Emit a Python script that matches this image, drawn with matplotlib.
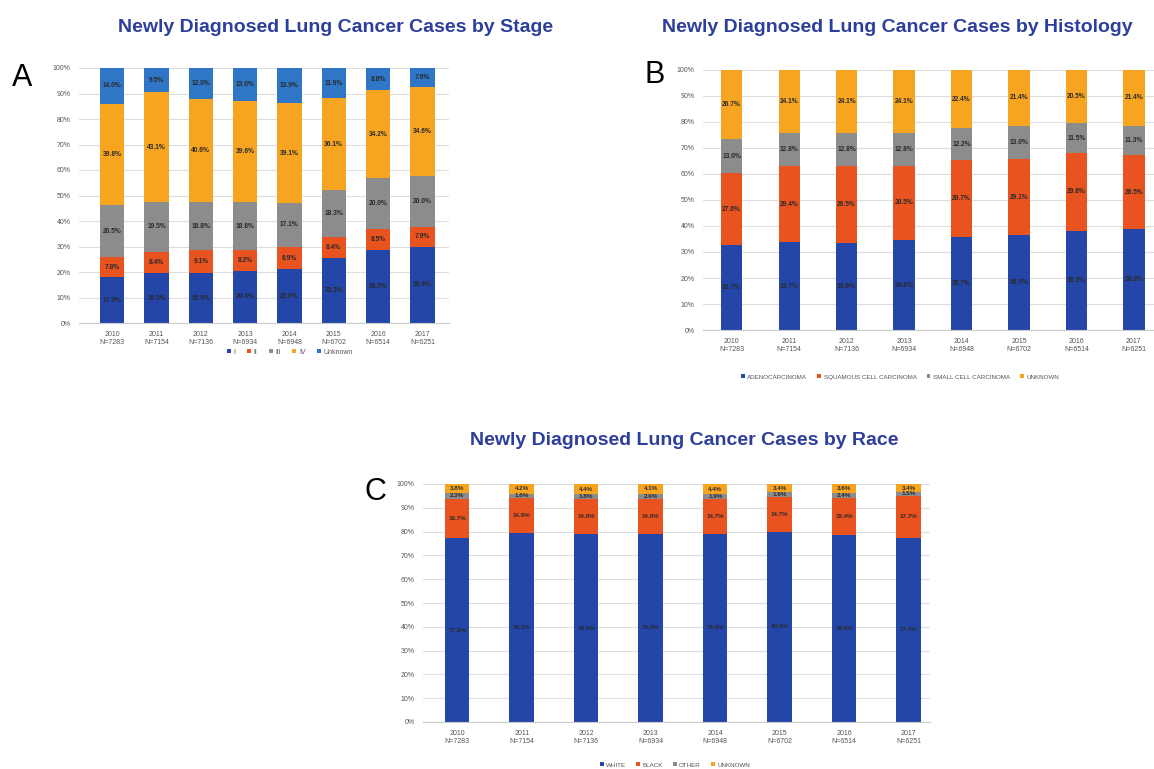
import matplotlib.pyplot as plt
import numpy as np

plt.rcParams['font.family'] = ['Liberation Sans', 'DejaVu Sans']

years = ['2010', '2011', '2012', '2013', '2014', '2015', '2016', '2017']
n_cases = ['N=7283', 'N=7154', 'N=7136', 'N=6934', 'N=6948', 'N=6702', 'N=6514', 'N=6251']

# Panel A - stage (%)
stage_names = ['I', 'II', 'III', 'IV', 'Unknown']
stage_i = [17.9, 19.5, 19.5, 20.4, 21.0, 25.3, 28.5, 29.9]
stage_ii = [7.8, 8.4, 9.1, 8.2, 8.9, 8.4, 8.5, 7.9]
stage_iii = [20.5, 19.5, 18.8, 18.8, 17.1, 18.3, 20.0, 20.0]
stage_iv = [39.8, 43.1, 40.6, 39.6, 39.1, 36.1, 34.2, 34.6]
stage_unk = [14.0, 9.5, 12.0, 13.0, 13.9, 11.9, 8.8, 7.6]

# Panel B - histology (%)
hist_names = ['ADENOCARCINOMA', 'SQUAMOUS CELL CARCINOMA', 'SMALL CELL CARCINOMA', 'UNKNOWN']
adeno = [32.7, 33.7, 33.6, 34.6, 35.7, 36.5, 38.2, 38.8]
squamous = [27.6, 29.4, 29.5, 28.5, 29.7, 29.1, 29.8, 28.5]
small_cell = [13.0, 12.8, 12.8, 12.8, 12.2, 13.0, 11.5, 11.3]
hist_unk = [26.7, 24.1, 24.1, 24.1, 22.4, 21.4, 20.5, 21.4]

# Panel C - race (%)
race_names = ['WHITE', 'BLACK', 'OTHER', 'UNKNOWN']
white = [77.2, 79.3, 78.9, 79.0, 79.0, 80.0, 78.6, 77.4]
black = [16.7, 14.9, 14.9, 14.9, 14.7, 14.7, 15.4, 17.7]
other = [2.3, 1.6, 1.8, 2.0, 1.9, 1.9, 2.4, 1.5]
race_unk = [3.8, 4.2, 4.4, 4.1, 4.4, 3.4, 3.6, 3.4]

BLUE = '#2446a8'
RED = '#e9531f'
GREY = '#8c8c8c'
GOLD = '#f7a520'
LBLUE = '#2f77c6'
TITLE_C = '#2d3e9c'

fig = plt.figure(figsize=(11.54, 7.69), dpi=100)
W, H = 1154, 769


def make_axes(x0, x1, ytop, ybot):
    return fig.add_axes([x0 / W, 1 - ybot / H, (x1 - x0) / W, (ybot - ytop) / H])


def stacked(ax, series, names, colors, width, xlim, fs=4.8):
    x = np.arange(len(years))
    bottom = np.zeros(len(years))
    for vals, name, col in zip(series, names, colors):
        vals = np.array(vals)
        ax.bar(x, vals, width, bottom=bottom, color=col, label=name, zorder=2)
        for xi, b, v in zip(x, bottom, vals):
            ax.text(xi, b + v / 2, f'{v:.1f}%', ha='center', va='center',
                    fontsize=fs, fontweight='bold', color='#2a2a2a', zorder=3)
        bottom += vals
    ax.set_xlim(*xlim)
    ax.set_ylim(0, 100)
    ax.set_yticks(range(0, 101, 10))
    ax.set_yticklabels([f'{v}%' for v in range(0, 101, 10)], fontsize=5, color='#555555')
    ax.set_xticks(x)
    ax.set_xticklabels([f'{y}\n{n}' for y, n in zip(years, n_cases)], fontsize=5, color='#555555')
    ax.tick_params(length=0, pad=6)
    ax.grid(axis='y', color='#dddddd', linewidth=0.8, zorder=0)
    for s in ['top', 'right', 'left']:
        ax.spines[s].set_visible(False)
    ax.spines['bottom'].set_color('#cccccc')


def legend(ax, y_px, x_px, fs):
    ax.legend(loc='center', bbox_to_anchor=(x_px / W, 1 - y_px / H),
              bbox_transform=fig.transFigure, ncol=5, frameon=False,
              fontsize=fs, handlelength=0.6, handleheight=0.6,
              columnspacing=1.6, handletextpad=0.4, labelcolor='#555555')


def title(x_px, y_px, s):
    fig.text(x_px / W, 1 - y_px / H, s, ha='center', va='center',
             fontsize=14, fontweight='bold', color=TITLE_C)


# Panel A
axA = make_axes(79, 449, 68, 323)
stacked(axA, [stage_i, stage_ii, stage_iii, stage_iv, stage_unk], stage_names,
        [BLUE, RED, GREY, GOLD, LBLUE], 0.55, (-0.75, 7.6))
legend(axA, 352, 290, 5)
title(336, 27, 'Newly Diagnosed Lung Cancer Cases by Stage')
fig.text(22 / W, 1 - 78 / H, 'A', ha='center', va='center', fontsize=22, color='black')

# Panel B
axB = make_axes(703, 1154, 70, 330)
stacked(axB, [adeno, squamous, small_cell, hist_unk], hist_names,
        [BLUE, RED, GREY, GOLD], 0.37, (-0.5, 7.35))
legend(axB, 377, 900, 4.5)
title(897, 27, 'Newly Diagnosed Lung Cancer Cases by Histology')
fig.text(655 / W, 1 - 75 / H, 'B', ha='center', va='center', fontsize=22, color='black')

# Panel C
axC = make_axes(423, 930, 484, 722)
stacked(axC, [white, black, other, race_unk], race_names,
        [BLUE, RED, GREY, GOLD], 0.38, (-0.53, 7.33), fs=4.5)
legend(axC, 765, 675, 4.5)
title(684, 440, 'Newly Diagnosed Lung Cancer Cases by Race')
fig.text(375 / W, 1 - 492 / H, 'C', ha='center', va='center', fontsize=22, color='black')

fig.savefig('out.png', dpi=100)
